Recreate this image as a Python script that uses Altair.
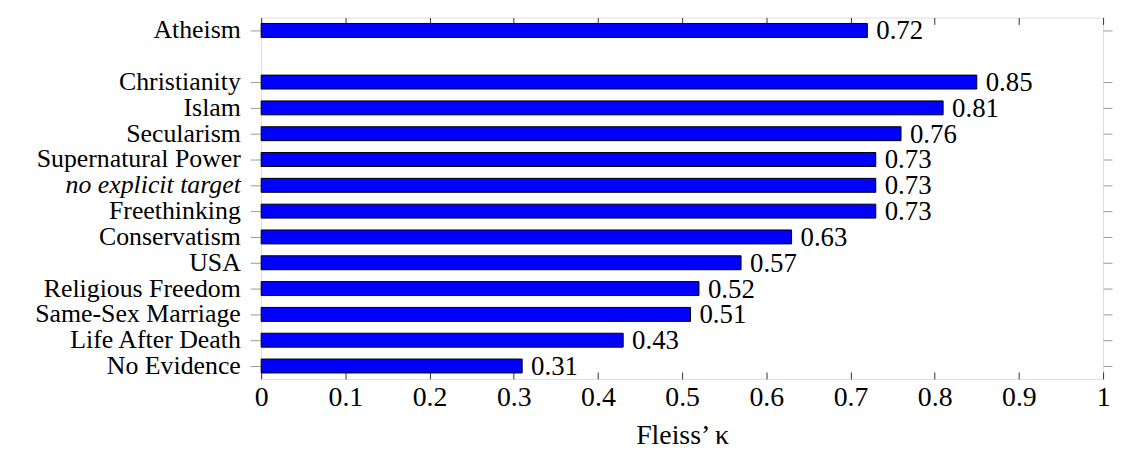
import altair as alt
import pandas as pd

GAP = " "
categories = ["Atheism", "Christianity", "Islam", "Secularism", "Supernatural Power",
              "no explicit target", "Freethinking", "Conservatism", "USA",
              "Religious Freedom", "Same-Sex Marriage", "Life After Death", "No Evidence"]
kappa = [0.72, 0.85, 0.81, 0.76, 0.73, 0.73, 0.73, 0.63, 0.57, 0.52, 0.51, 0.43, 0.31]
x_ticks = [0, 0.1, 0.2, 0.3, 0.4, 0.5, 0.6, 0.7, 0.8, 0.9, 1.0]

domain_order = [categories[0], GAP] + categories[1:]

df = pd.DataFrame({"target": categories, "kappa": kappa})

FONT = "Liberation Serif"
FS = 26

yscale = alt.Scale(domain=domain_order, paddingInner=0.46, paddingOuter=0.23)
xscale = alt.Scale(domain=[0, 1], nice=False, zero=True)

bars = alt.Chart(df).mark_bar(color="#0000ff", stroke="#000000", strokeWidth=1).encode(
    x=alt.X("kappa:Q", scale=xscale,
            axis=alt.Axis(orient="bottom", values=x_ticks, format="~g", ticks=False, tickSize=0,
                          domain=False, grid=False, labelFlush=False, labelOverlap=False,
                          labelPadding=5, labelFontSize=28, labelFont=FONT, labelColor="black",
                          title="Fleiss\u2019 \u03ba", titleFont=FONT, titleFontSize=28,
                          titleFontWeight="normal", titleColor="black", titlePadding=10)),
    y=alt.Y("target:N", scale=yscale, sort=domain_order,
            axis=alt.Axis(orient="left", values=categories, title=None, domain=False,
                          ticks=True, tickSize=11, tickColor="#999999", labelPadding=10,
                          labelFont=FONT, labelFontSize=FS, labelColor="black", labelLimit=400,
                          labelFontStyle={"condition": {"test": "datum.value === 'no explicit target'",
                                                        "value": "italic"}, "value": "normal"},
                          minExtent=255, maxExtent=255)),
)

labels = alt.Chart(df).mark_text(align="left", baseline="alphabetic", dx=9, dy=9,
                                 font=FONT, fontSize=27, color="black").encode(
    x=alt.X("kappa:Q", scale=xscale,
            axis=alt.Axis(orient="bottom", values=x_ticks, labels=False, ticks=True, tickSize=7,
                          tickColor="#333333", offset=-7, domain=False, grid=False, title=None,
                          minExtent=0, maxExtent=0)),
    y=alt.Y("target:N", scale=yscale, sort=domain_order,
            axis=alt.Axis(orient="right", values=categories, labels=False, title=None,
                          domain=False, ticks=True, tickSize=9, tickColor="#999999",
                          minExtent=0, maxExtent=0)),
    text=alt.Text("kappa:Q", format=".2f"),
)

top = alt.Chart(df).mark_bar(opacity=0).encode(
    x=alt.X("kappa:Q", scale=xscale,
            axis=alt.Axis(orient="top", values=x_ticks, labels=False, ticks=True, tickSize=7,
                          tickColor="#333333", offset=-7, domain=False, grid=False, title=None,
                          minExtent=0, maxExtent=0)),
    y=alt.Y("target:N", scale=yscale, sort=domain_order, axis=None),
)

chart = alt.layer(bars, labels, top).resolve_axis(x="independent", y="independent").properties(
    width=848, height=364,
    padding={"left": 0, "top": 7, "right": 0, "bottom": 0},
).configure_view(stroke="#000000", strokeWidth=1).configure(font=FONT, background="white")

chart.save("out.html", embed_options={"renderer": "svg", "actions": False})
